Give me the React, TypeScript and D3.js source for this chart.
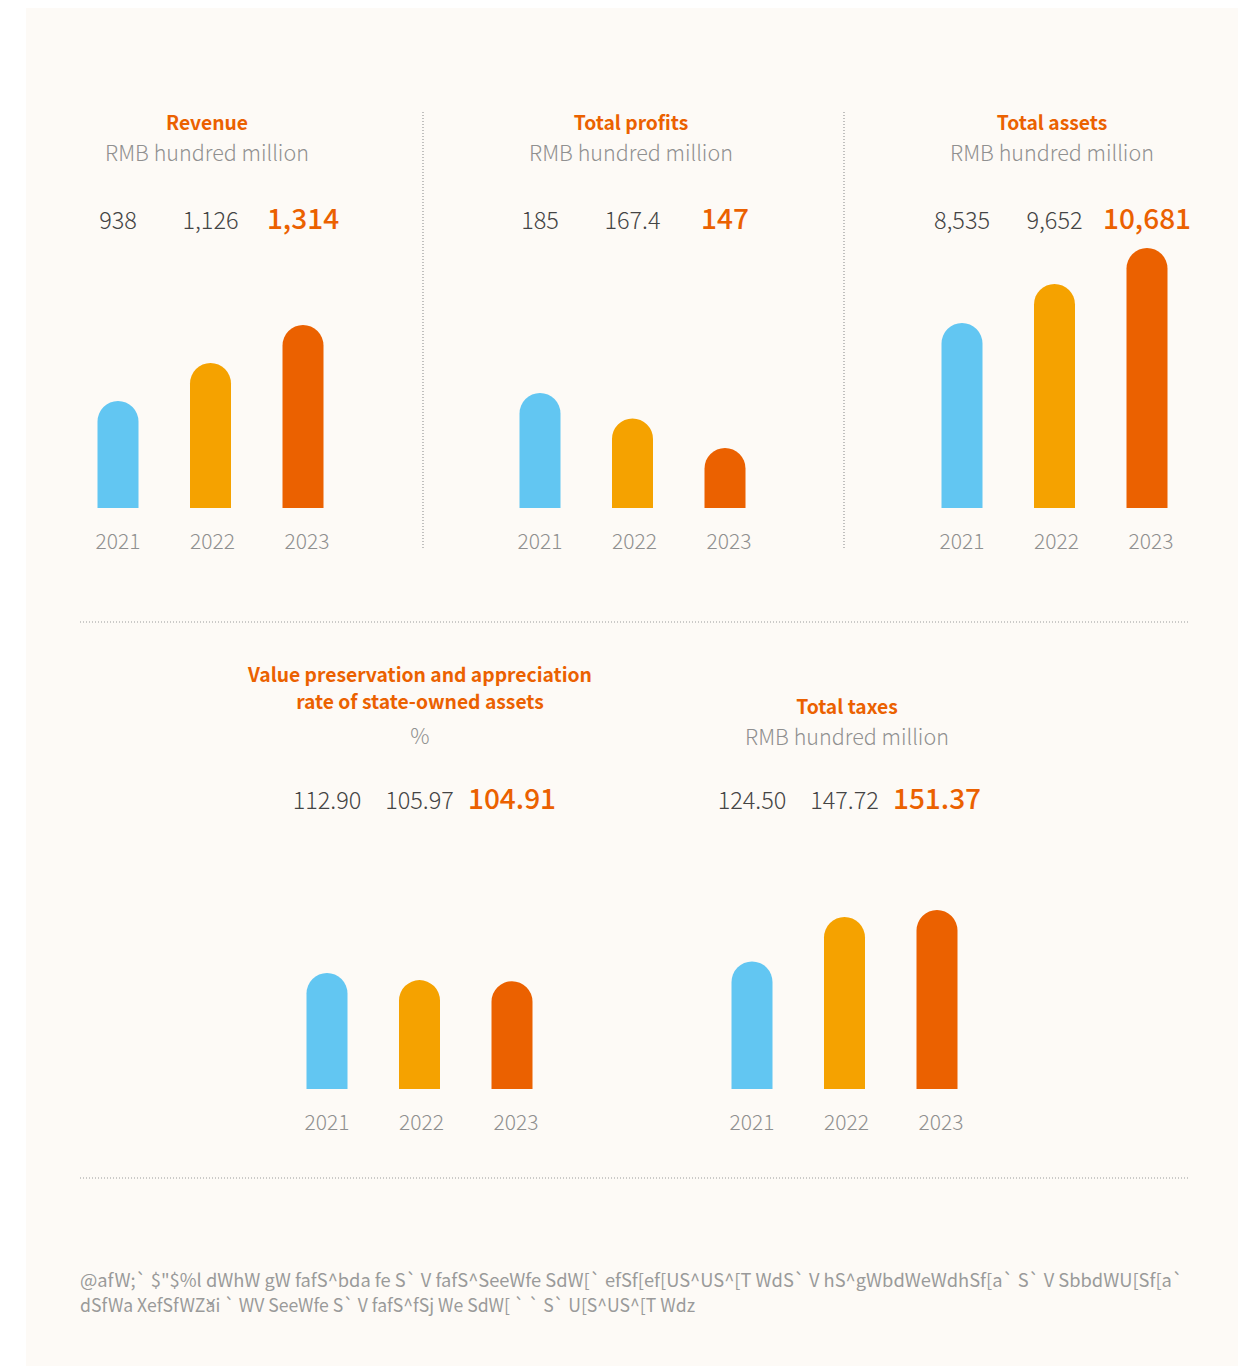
import * as d3 from 'd3';

const years = ['2021', '2022', '2023'];
const revenue = [938, 1126, 1314];
const revenueLabels = ['938', '1,126', '1,314'];
const profits = [185, 167.4, 147];
const profitLabels = ['185', '167.4', '147'];
const assets = [8535, 9652, 10681];
const assetLabels = ['8,535', '9,652', '10,681'];
const preservation = [112.9, 105.97, 104.91];
const preservationLabels = ['112.90', '105.97', '104.91'];
const taxes = [124.5, 147.72, 151.37];
const taxLabels = ['124.50', '147.72', '151.37'];

const footLine1 = '@afW;` $"$%l dWhW gW fafS^bda  fe S` V fafS^SeeWfe SdW[`  efSf[ef[US^US^[T WdS` V hS^gWbdWeWdhSf[a`  S` V SbbdWU[Sf[a`';
const footLine2 = 'dSfWa XefSfWŽai ` WV SeeWfe S` V fafS^fSj We SdW[ `    ` S` U[S^US^[T Wdz';

const colors = ['#62C6F2', '#F5A200', '#EB6100'];
const ORANGE = '#EB6100';
const FONT = '"Noto Sans CJK SC", "Noto Sans", sans-serif';

type PanelProps = {
  title: string[];
  unit: string;
  values: number[];
  labels: string[];
  base: number;
  x0: number;
  shift?: number;
  titleY: number;
  valueY: number;
  bottom: number;
  top: number;
};

function Panel({ title, unit, values, labels, base, x0, shift = 0, titleY, valueY, bottom, top }: PanelProps) {
  const x = d3.scalePoint<string>().domain(years).range([x0, x0 + 185]);
  const y = d3.scaleLinear().domain([base, d3.max(values) as number]).range([bottom, top]);
  const cx = x0 + 90 + shift;
  const w = 41;
  const r = w / 2;
  const unitY = titleY + 31 * title.length;
  return (
    <g>
      {title.map((t, i) => (
        <text key={i} x={cx} y={titleY + i * 27} textAnchor="middle" fontSize={19.3} fontWeight={700} fill={ORANGE}>
          {t}
        </text>
      ))}
      <text x={cx} y={unitY} textAnchor="middle" fontSize={21.5} fontWeight={300} fill="#909090">
        {unit}
      </text>
      {years.map((yr, i) => {
        const bx = (x(yr) as number) - w / 2;
        const ty = y(values[i]);
        const path = `M${bx},${bottom}V${ty + r}A${r},${r} 0 0 1 ${bx + w},${ty + r}V${bottom}Z`;
        const last = i === years.length - 1;
        return (
          <g key={yr}>
            <text
              x={x(yr)}
              y={valueY}
              textAnchor="middle"
              fontSize={last ? 28 : 23.5}
              fontWeight={last ? 500 : 300}
              fill={last ? ORANGE : '#444'}
            >
              {labels[i]}
            </text>
            <path d={path} fill={colors[i]} />
            <text x={(x(yr) as number) + i * 2} y={bottom + 41} textAnchor="middle" fontSize={21} fontWeight={300} fill="#8f8f8f">
              {yr}
            </text>
          </g>
        );
      })}
    </g>
  );
}

export default function App() {
  return (
    <svg width={1246} height={1367} style={{ position: 'absolute', left: 0, top: 0 }} fontFamily={FONT}>
      <rect x={0} y={0} width={1246} height={1367} fill="#fff" />
      <rect x={26} y={8} width={1212} height={1358} fill="#FDFAF6" />

      <line x1={423} x2={423} y1={112} y2={550} stroke="#999" strokeWidth={1.2} strokeDasharray="1,2" />
      <line x1={844} x2={844} y1={112} y2={550} stroke="#999" strokeWidth={1.2} strokeDasharray="1,2" />
      <line x1={80} x2={1189} y1={622} y2={622} stroke="#999" strokeWidth={1.2} strokeDasharray="1,2" />
      <line x1={80} x2={1189} y1={1178} y2={1178} stroke="#999" strokeWidth={1.2} strokeDasharray="1,2" />

      <Panel title={['Revenue']} unit="RMB hundred million" values={revenue} labels={revenueLabels}
        base={409} x0={118} shift={-1} titleY={130} valueY={229} bottom={508} top={325} />
      <Panel title={['Total profits']} unit="RMB hundred million" values={profits} labels={profitLabels}
        base={105.5} x0={540} shift={1} titleY={130} valueY={229} bottom={508} top={393} />
      <Panel title={['Total assets']} unit="RMB hundred million" values={assets} labels={assetLabels}
        base={3242} x0={962} titleY={130} valueY={229} bottom={508} top={248} />
      <Panel title={['Value preservation and appreciation', 'rate of state-owned assets']} unit="%"
        values={preservation} labels={preservationLabels}
        base={0} x0={327} shift={3} titleY={682} valueY={809} bottom={1089} top={973} />
      <Panel title={['Total taxes']} unit="RMB hundred million" values={taxes} labels={taxLabels}
        base={58} x0={752} shift={5} titleY={714} valueY={809} bottom={1089} top={910} />

      <text x={80} y={1287} fontSize={18} fill="#9a9a9a" textLength={1103} lengthAdjust="spacingAndGlyphs">
        {footLine1}
      </text>
      <text x={80} y={1312} fontSize={18} fill="#9a9a9a" textLength={615} lengthAdjust="spacingAndGlyphs">
        {footLine2}
      </text>
    </svg>
  );
}
